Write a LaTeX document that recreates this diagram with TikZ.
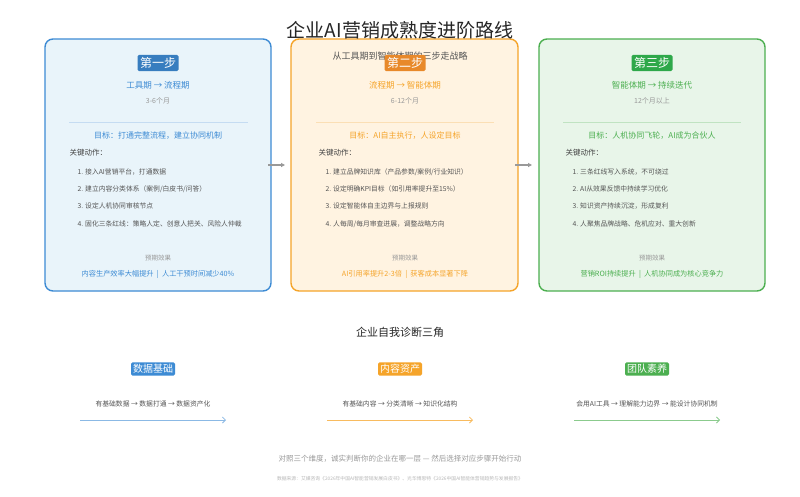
\documentclass[tikz,border=0pt]{standalone}
\usepackage{fontspec}
\setmainfont{Noto Sans CJK SC}
\usetikzlibrary{positioning,arrows.meta}
\definecolor{cblue}{HTML}{3D8BD4}
\definecolor{corange}{HTML}{F5A42A}
\definecolor{cgreen}{HTML}{4CAF50}
\definecolor{borange}{HTML}{E8892A}
\definecolor{bgreen}{HTML}{2EA84A}
\definecolor{fblue}{HTML}{E9F4FA}
\definecolor{forange}{HTML}{FFF3E1}
\definecolor{fgreen}{HTML}{E8F5E9}
\definecolor{tgray}{HTML}{555555}
\definecolor{lgray}{HTML}{999999}

\begin{document}
\begin{tikzpicture}[x=1pt, y=-1pt,
card/.style={draw, line width=1.4pt, rounded corners=8pt},
badge/.style={rounded corners=1.5pt, text=white, font=\fontsize{12}{12}\selectfont, inner sep=2.5pt},
sbadge/.style={rounded corners=1.5pt, text=white, font=\fontsize{10}{10}\selectfont, inner sep=2pt},
phase/.style={font=\fontsize{8.5}{9}\selectfont},
small/.style={font=\fontsize{7}{8}\selectfont, text=lgray},
goal/.style={font=\fontsize{8}{9}\selectfont},
item/.style={font=\fontsize{6.8}{8}\selectfont, text=tgray, anchor=west},
head/.style={font=\fontsize{7.5}{8}\selectfont, text=tgray!80!black, anchor=west},
flow/.style={-{Straight Barb[length=3pt]}, line width=0.8pt}]
\useasboundingbox (0,0) rectangle (800,496);
\fill[white] (0,0) rectangle (800,496);

% cards
\draw[card, cblue, fill=fblue] (45,39) rectangle (271,291);
\draw[card, corange, fill=forange] (291,39) rectangle (518,291);
\draw[card, cgreen, fill=fgreen] (539,39) rectangle (765,291);

\node[font=\fontsize{19}{20}\selectfont, text=black!85] (title) at (400,30) {企业AI营销成熟度进阶路线};
\node[font=\fontsize{9}{10}\selectfont, text=tgray] (sub) at (400,56) {从工具期到智能体期的三步走战略};

% step 1
\node[badge, fill=cblue!90!black] (b1) at (158,63) {第一步};
\node[phase, text=cblue] (p1) at (158,85) {工具期 → 流程期};
\node[small] (d1) at (158,101) {3-6个月};
\draw[cblue!30, line width=0.6pt] (69,122) -- (248,122);
\node[goal, text=cblue] (g1) at (158,136) {目标：打通完整流程，建立协同机制};
\node[head] (k1) at (66,153) {关键动作：};
\node[item] at (74,172) {1. 接入AI营销平台，打通数据};
\node[item] at (74,189) {2. 建立内容分类体系（案例/白皮书/问答）};
\node[item] at (74,206) {3. 设定人机协同审核节点};
\node[item] at (74,224) {4. 固化三条红线：策略人定、创意人把关、风险人仲裁};
\node[small, font=\fontsize{6.5}{8}\selectfont] at (158,258) {预期效果};
\node[goal, font=\fontsize{7.2}{8}\selectfont, text=cblue] at (158,274) {内容生产效率大幅提升 ~|~ 人工干预时间减少40\%};

% step 2
\node[badge, fill=borange] (b2) at (405,63) {第二步};
\node[phase, text=corange] (p2) at (405,85) {流程期 → 智能体期};
\node[small] (d2) at (405,101) {6-12个月};
\draw[corange!35, line width=0.6pt] (316,122) -- (494,122);
\node[goal, text=corange] (g2) at (405,136) {目标：AI自主执行，人设定目标};
\node[head] (k2) at (315,153) {关键动作：};
\node[item] at (322,172) {1. 建立品牌知识库（产品参数/案例/行业知识）};
\node[item] at (322,189) {2. 设定明确KPI目标（如引用率提升至15\%）};
\node[item] at (322,206) {3. 设定智能体自主边界与上报规则};
\node[item] at (322,224) {4. 人每周/每月审查进展，调整战略方向};
\node[small, font=\fontsize{6.5}{8}\selectfont] at (405,258) {预期效果};
\node[goal, font=\fontsize{7.2}{8}\selectfont, text=corange] at (405,274) {AI引用率提升2-3倍 ~|~ 获客成本显著下降};

% step 3
\node[badge, fill=bgreen] (b3) at (652,63) {第三步};
\node[phase, text=cgreen] (p3) at (652,85) {智能体期 → 持续迭代};
\node[small] (d3) at (652,101) {12个月以上};
\draw[cgreen!35, line width=0.6pt] (563,122) -- (741,122);
\node[goal, text=cgreen] (g3) at (652,136) {目标：人机协同飞轮，AI成为合伙人};
\node[head] (k3) at (562,153) {关键动作：};
\node[item] at (569,172) {1. 三条红线写入系统，不可绕过};
\node[item] at (569,189) {2. AI从效果反馈中持续学习优化};
\node[item] at (569,206) {3. 知识资产持续沉淀，形成复利};
\node[item] at (569,224) {4. 人聚焦品牌战略、危机应对、重大创新};
\node[small, font=\fontsize{6.5}{8}\selectfont] at (652,258) {预期效果};
\node[goal, font=\fontsize{7.2}{8}\selectfont, text=cgreen] at (652,274) {营销ROI持续提升 ~|~ 人机协同成为核心竞争力};

% links between cards
\coordinate (a1) at (268,165); \coordinate (a2) at (285,165);
\coordinate (a3) at (515,165); \coordinate (a4) at (532,165);
\draw[-{Triangle[length=4pt,width=4pt]}, lgray, line width=1.5pt] (a1) -- (a2);
\draw[-{Triangle[length=4pt,width=4pt]}, lgray, line width=1.5pt] (a3) -- (a4);

% diagnosis
\node[font=\fontsize{11}{12}\selectfont, text=black!85] (diag) at (400,332) {企业自我诊断三角};
\node[sbadge, fill=cblue] (s1) at (153,369) {数据基础};
\node[sbadge, fill=corange] (s2) at (400,369) {内容资产};
\node[sbadge, fill=cgreen] (s3) at (647,369) {团队素养};
\node[item, anchor=center] (t1) at (153,404) {有基础数据 → 数据打通 → 数据资产化};
\node[item, anchor=center] (t2) at (400,404) {有基础内容 → 分类清晰 → 知识化结构};
\node[item, anchor=center] (t3) at (647,404) {会用AI工具 → 理解能力边界 → 能设计协同机制};
\coordinate (f1) at (80,420); \coordinate (f2) at (226,420);
\coordinate (f3) at (327,420); \coordinate (f4) at (473,420);
\coordinate (f5) at (574,420); \coordinate (f6) at (720,420);
\draw[flow, cblue!60] (f1) -- (f2);
\draw[flow, corange!75] (f3) -- (f4);
\draw[flow, cgreen!65] (f5) -- (f6);

\node[font=\fontsize{7.5}{8}\selectfont, text=lgray] (note) at (400,459) {对照三个维度，诚实判断你的企业在哪一层 — 然后选择对应步骤开始行动};
\node[font=\fontsize{4.8}{5}\selectfont, text=lgray!70] (src) at (400,479) {数据来源：艾媒咨询《2026年中国AI智能营销发展白皮书》、光华博思特《2026中国AI智能体营销趋势与发展报告》};
\end{tikzpicture}
\end{document}
